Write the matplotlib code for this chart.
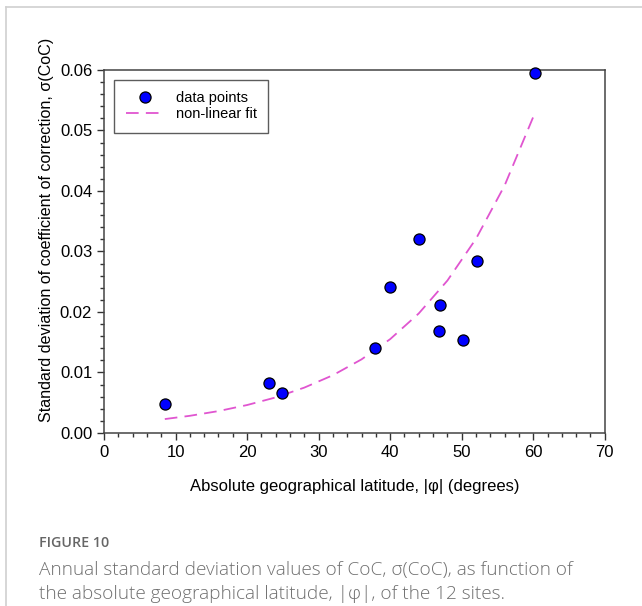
import numpy as np
import matplotlib
matplotlib.use('Agg')
import matplotlib.pyplot as plt
from matplotlib.lines import Line2D
from matplotlib.ticker import MultipleLocator

# data points
lat = [8.5, 23.1, 24.9, 37.9, 40.0, 44.1, 47.0, 46.8, 50.2, 52.2, 60.2]
sigma = [0.0048, 0.0083, 0.0066, 0.0140, 0.0242, 0.0320, 0.0211, 0.0169, 0.0153, 0.0285, 0.0595]

# non-linear fit curve
fit_lat = [8.5, 12, 16, 20, 24, 28, 32, 36, 40, 44, 48, 52, 56, 60.2]
fit_sigma = [0.0023, 0.00284, 0.00362, 0.00462, 0.00588, 0.0075, 0.00955, 0.01217,
             0.01551, 0.01976, 0.02519, 0.0321, 0.04091, 0.0528]

plt.rcParams['font.family'] = ['Liberation Sans', 'DejaVu Sans']

fig = plt.figure(figsize=(6.42, 6.06), dpi=100)
ax = fig.add_axes([0.162, 0.2855, 0.780, 0.599])

ax.plot(fit_lat, fit_sigma, color='#e055d0', lw=1.3, dashes=(7, 4), label='non-linear fit')
ax.plot(lat, sigma, 'o', color='#0000ff', mec='black', mew=0.9, ms=8, label='data points',
        clip_on=False, zorder=3)

ax.set_xlim(0, 70)
ax.set_ylim(0, 0.06)
ax.xaxis.set_major_locator(MultipleLocator(10))
ax.xaxis.set_minor_locator(MultipleLocator(2))
ax.yaxis.set_major_locator(MultipleLocator(0.01))
ax.yaxis.set_minor_locator(MultipleLocator(0.002))
ax.yaxis.set_major_formatter(matplotlib.ticker.FormatStrFormatter('%.2f'))
ax.tick_params(which='major', direction='out', length=5, width=1, labelsize=12, colors='#333333',
               labelcolor='black')
ax.tick_params(which='minor', direction='out', length=3, width=1, colors='#333333')
for s in ax.spines.values():
    s.set_color('#444444')
    s.set_linewidth(1.1)

ax.set_xlabel('Absolute geographical latitude, |\u03c6| (degrees)', fontsize=12, labelpad=14)
ax.set_ylabel('Standard deviation of coefficient of correction, \u03c3(CoC)', fontsize=11.6)
ax.yaxis.set_label_coords(-0.1, 0.56)

h, l = ax.get_legend_handles_labels()
leg = ax.legend(h[::-1], l[::-1], loc='upper left', bbox_to_anchor=(0.012, 0.985), fancybox=False,
                edgecolor='#333333', fontsize=10.5, handlelength=2.6, borderpad=0.8,
                labelspacing=0.1, handletextpad=0.8, borderaxespad=0.3)
leg.get_frame().set_linewidth(1.0)

# caption
cap_font = ['Open Sans', 'DejaVu Sans']
fig.text(0.06, 1 - 543 / 606, 'FIGURE 10', fontsize=10.3, color='#666666', family=cap_font,
         fontweight='semibold', va='center')
fig.text(0.06, 1 - 570 / 606, 'Annual standard deviation values of CoC, \u03c3(CoC), as function of',
         fontsize=13.7, color='#707070', family=cap_font, fontweight='light', va='center')
fig.text(0.06, 1 - 594 / 606, 'the absolute geographical latitude, |\u03c6|, of the 12 sites.',
         fontsize=13.7, color='#707070', family=cap_font, fontweight='light', va='center')

# page border (top and left)
fig.add_artist(Line2D([6 / 642, 1], [1 - 7 / 606, 1 - 7 / 606], color='#d0d0d0', lw=1.2))
fig.add_artist(Line2D([6 / 642, 6 / 642], [0, 1 - 7 / 606], color='#d0d0d0', lw=1.2))

fig.savefig('out.png', dpi=100)
